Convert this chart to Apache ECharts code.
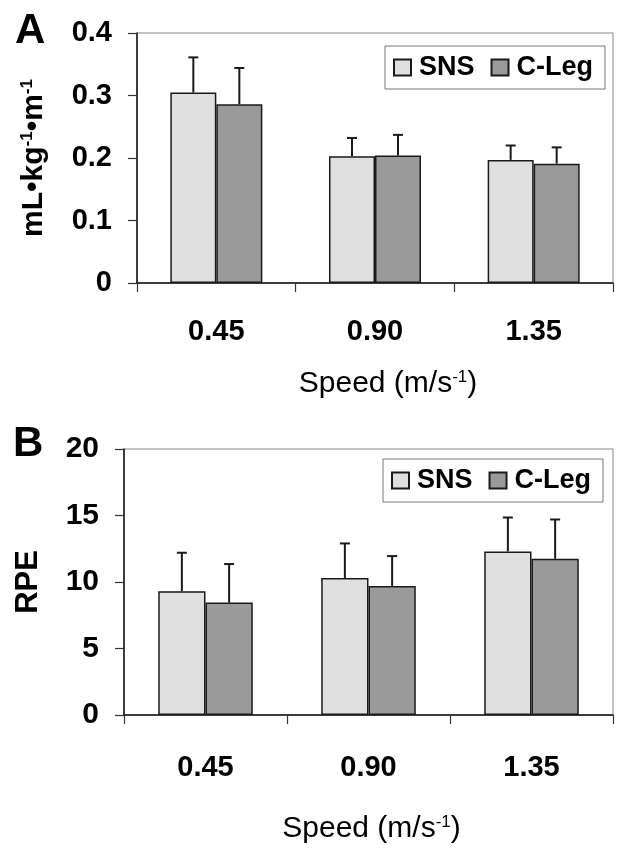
<!DOCTYPE html>
<html>
<head>
<meta charset="utf-8">
<script src="https://cdn.jsdelivr.net/npm/echarts@6/dist/echarts.min.js"></script>
<style>html,body{margin:0;padding:0;background:#fff;}#c{width:627px;height:854px;}</style>
</head>
<body>
<div id="c"></div>
<script>
// ---- data ----
const categories = ['0.45', '0.90', '1.35'];
const seriesNames = ['SNS', 'C-Leg'];
// Panel A: oxygen cost (mL·kg-1·m-1)
const snsA = [0.305, 0.203, 0.197];
const snsA_sd = [0.056, 0.029, 0.023];
const clegA = [0.286, 0.204, 0.191];
const clegA_sd = [0.058, 0.033, 0.026];
// Panel B: RPE
const snsB = [9.3, 10.3, 12.3];
const snsB_sd = [2.9, 2.6, 2.55];
const clegB = [8.45, 9.7, 11.75];
const clegB_sd = [2.9, 2.25, 2.95];
const yTicksA = [0, 0.1, 0.2, 0.3, 0.4];
const yTicksB = [0, 5, 10, 15, 20];

const FONT = '"Liberation Sans", Arial, Helvetica, sans-serif';
const COLORS = ['#e0e0e0', '#9a9a9a'];
const CAT_GAP = 0.42;

function errData(vals, sds) {
  return vals.map((v, i) => [i, v + sds[i], v]);
}
function makeErr(side) {
  return function (params, api) {
    const ci = api.value(0);
    const top = api.coord([ci, api.value(1)]);
    const base = api.coord([ci, api.value(2)]);
    const band = api.size([1, 0])[0];
    const bw = band * (1 - CAT_GAP) / 2;
    const x = top[0] + side * bw / 2;
    const st = { stroke: '#1a1a1a', lineWidth: 2 };
    return {
      type: 'group',
      children: [
        { type: 'line', shape: { x1: x, y1: base[1], x2: x, y2: top[1] }, style: st },
        { type: 'line', shape: { x1: x - 5, y1: top[1], x2: x + 5, y2: top[1] }, style: st }
      ]
    };
  };
}

const chart = echarts.init(document.getElementById('c'), null, { renderer: 'canvas' });

function xAxisCfg(gi, margin, nameGap, namePad) {
  return {
    type: 'category', gridIndex: gi, data: categories,
    axisLine: { lineStyle: { color: '#111', width: 1.5 } },
    axisTick: { show: true, length: 9, lineStyle: { color: '#333', width: 1.2 } },
    axisLabel: { fontFamily: FONT, fontSize: 29, fontWeight: 'bold', color: '#000', margin: margin },
    name: 'Speed (m/s{s|-1})', nameLocation: 'middle', nameGap: nameGap,
    nameTextStyle: {
      fontFamily: FONT, fontSize: 30, color: '#000', padding: namePad,
      rich: { s: { fontFamily: FONT, fontSize: 17, color: '#000', verticalAlign: 'top', lineHeight: 30 } }
    }
  };
}
function yAxisCfg(gi, max, interval, ticks, fontSize, name, nameGap, nameSize, fmt) {
  return {
    type: 'value', gridIndex: gi, min: ticks[0], max: max, interval: interval,
    axisLine: { show: true, lineStyle: { color: '#111', width: 1.5 } },
    axisTick: { show: true, length: 9, lineStyle: { color: '#333', width: 1.2 } },
    splitLine: { show: false },
    axisLabel: { fontFamily: FONT, fontSize: fontSize, fontWeight: 'bold', color: '#000', margin: 25, formatter: fmt },
    name: name, nameLocation: 'middle', nameRotate: 90, nameGap: nameGap,
    nameTextStyle: {
      fontFamily: FONT, fontSize: nameSize, fontWeight: 'bold', color: '#000',
      rich: { s: { fontFamily: FONT, fontSize: 17, fontWeight: 'bold', color: '#000', verticalAlign: 'top', lineHeight: nameSize } }
    }
  };
}
function legendCfg(left, top) {
  return {
    show: true, data: seriesNames, left: left, top: top, orient: 'horizontal',
    itemWidth: 17, itemHeight: 16, itemGap: 16, icon: 'rect',
    selectedMode: false,
    padding: [8, 12, 8, 8],
    borderColor: '#777', borderWidth: 1, backgroundColor: '#fff',
    textStyle: { fontFamily: FONT, fontSize: 27, fontWeight: 'bold', color: '#000', padding: [0, 0, 0, 3] }
  };
}
function barSeries(name, gi, data, color) {
  return {
    type: 'bar', name: name, xAxisIndex: gi, yAxisIndex: gi, data: data,
    barGap: '0%', barCategoryGap: (CAT_GAP * 100) + '%',
    itemStyle: { color: color, borderColor: '#1a1a1a', borderWidth: 1.5 },
    emphasis: { disabled: true }, animation: false
  };
}
function errSeries(name, gi, vals, sds, side) {
  return {
    type: 'custom', name: name, xAxisIndex: gi, yAxisIndex: gi,
    data: errData(vals, sds), encode: { x: 0, y: 1 },
    renderItem: makeErr(side), z: 3, animation: false, silent: true
  };
}

chart.setOption({
  backgroundColor: '#fff',
  animation: false,
  grid: [
    { left: 137, right: 14, top: 33, height: 250, show: true, borderColor: '#888', borderWidth: 1, backgroundColor: 'transparent' },
    { left: 124, right: 14, top: 449, height: 266, show: true, borderColor: '#888', borderWidth: 1, backgroundColor: 'transparent' }
  ],
  legend: [legendCfg(385, 46), legendCfg(383, 459)],
  xAxis: [xAxisCfg(0, 34, 86, [0, 0, 0, 26]), xAxisCfg(1, 38, 99, [0, 0, 0, 6])],
  yAxis: [
    yAxisCfg(0, 0.4, 0.1, yTicksA, 29, 'mL•kg{s|-1}•m{s|-1}', 88, 30, v => v === 0 ? '0' : v.toFixed(1)),
    yAxisCfg(1, 20, 5, yTicksB, 30, 'RPE', 80, 31, v => String(v))
  ],
  graphic: [
    { type: 'text', left: 15, top: 10, style: { text: 'A', font: 'bold 42px ' + FONT, fill: '#000' } },
    { type: 'text', left: 13, top: 423, style: { text: 'B', font: 'bold 42px ' + FONT, fill: '#000' } }
  ],
  series: [
    barSeries('SNS', 0, snsA, COLORS[0]),
    barSeries('C-Leg', 0, clegA, COLORS[1]),
    errSeries('SNS-err', 0, snsA, snsA_sd, -1),
    errSeries('C-Leg-err', 0, clegA, clegA_sd, 1),
    barSeries('SNS', 1, snsB, COLORS[0]),
    barSeries('C-Leg', 1, clegB, COLORS[1]),
    errSeries('SNS-err', 1, snsB, snsB_sd, -1),
    errSeries('C-Leg-err', 1, clegB, clegB_sd, 1)
  ]
});
</script>
</body>
</html>
